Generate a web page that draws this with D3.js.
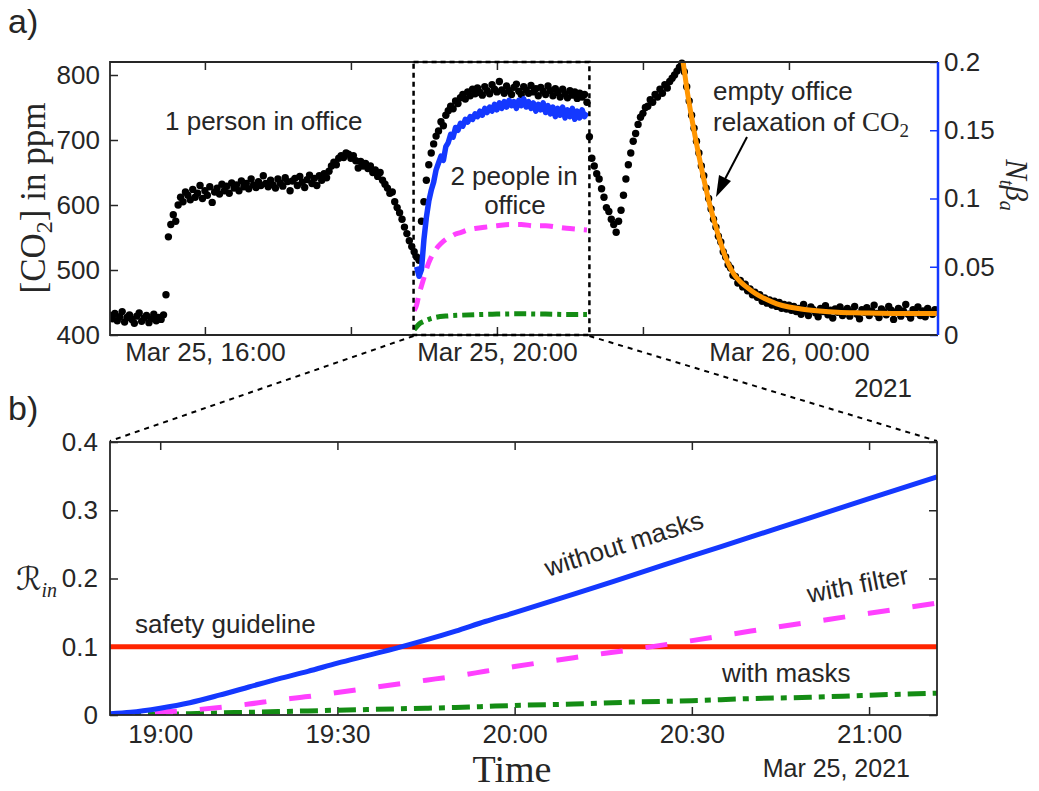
<!DOCTYPE html>
<html><head><meta charset="utf-8">
<script src="https://cdn.jsdelivr.net/npm/d3@7"></script>
<style>
body{margin:0;background:#fff;}
svg{display:block;}
text{font-family:"Liberation Sans",Arial,Helvetica,sans-serif;fill:#262626;}
.serif{font-family:"Liberation Serif","DejaVu Serif",serif;}
</style></head><body>
<svg id="c" width="1039" height="791"></svg>
<script>
// ---------------- DATA (times in minutes after Mar 25 2021 00:00) ----------------
// CO2 measurements (ppm), sampled every 2 minutes, by segment
const dotsA_start = 882;
const dotsA = [430,425,433,422,428,436,420,427,431,424,418,429,434,421,426,430,419,425,432,422,427,424,431,462];
const dotsB_start = 930;
const dotsB = [551,570,585,575,600,612,605,620,615,608,624,612,618,630,610,622,615,628,604,620,
  626,617,632,622,629,618,634,626,631,622,637,628,633,625,640,631,627,636,630,645,
  633,628,638,631,626,640,634,629,642,636,622,637,641,630,644,635,627,639,646,633,
  641,630,645,638,648,642,652,660,666,662,672,676,673,680,678,672,676,668,657,667,
  660,664,656,660,650,654,644,650,638,632,626,618,620,605,596,588,578,566,556,545,
  536,528,520,515];
const dotsC_start = 1138;
const dotsC = [575,605,638,662,680,694,706,714,728,722,738,745,752,748,760,756,765,770,763,774,
  768,778,771,780,773,769,782,776,771,785,778,774,790,777,772,783,776,770,781,786,
  775,770,782,777,772,784,774,779,768,781,775,770,783,776,768,779,773,766,778,771,
  765,776,769,774,764,772,766,770,758];
const dotsD_start = 1276;
const dotsD = [705,672,660,648,640,625,612,596,590,578,570,558,575,592,615,640,662,680,698,710,
  724,735,741,750,752,762,758,770,766,778,772,785,780,790,795,800,806,812,818];
const dotsE_start = 1354;
const dotsE = [805,782,760,738,718,698,680,660,645,626,610,594,578,566,552,543,528,520,508,503,
  492,490,480,484,474,478,468,471,462,466,458,462,452,457,449,454,446,452,444,450,
  441,447,440,446,
  438,444,436,441,432,447,437,430,443,439,434,428,441,436,445,431,438,426,440,435,
  443,430,437,441,429,436,444,432,425,439,435,442,430,437,446,433,427,440,436,431,
  444,438,424,435,441,429,437,447,432,426,439,434,443,430,437,428,441,435,432,439,436];
const dotStep = 2;

// N_t * beta_a estimate (right axis), every 2 minutes
const nbStart = 1134;
const nbValues = [0.050,0.043,0.048,0.070,0.086,0.098,0.106,0.112,0.121,0.126,0.131,0.128,0.138,0.141,0.147,0.145,
  0.152,0.150,0.155,0.153,0.158,0.156,0.160,0.158,0.162,0.160,0.164,0.161,0.166,0.163,0.167,0.164,0.169,0.165,
  0.170,0.166,0.171,0.167,0.172,0.168,0.171,0.166,0.172,0.168,0.173,0.167,0.171,0.166,0.170,0.164,0.169,0.165,
  0.170,0.163,0.168,0.162,0.167,0.160,0.166,0.161,0.167,0.159,0.165,0.160,0.166,0.158,0.164,0.159,0.165,0.160,0.163];
const filterTopT = [1132,1134,1136,1138,1140,1142,1144,1146,1150,1154,1158,1162,1166,1170,1176,1182,1190,1200,1210,1220,1230,1240,1250,1260,1274];
const filterTopV = [0.018,0.022,0.030,0.036,0.042,0.048,0.053,0.057,0.063,0.067,0.070,0.072,0.074,0.075,0.077,0.078,0.079,0.080,0.081,0.081,0.080,0.080,0.079,0.078,0.077];
const masksTopT = [1132,1134,1136,1140,1144,1150,1160,1170,1185,1200,1220,1240,1260,1274];
const masksTopV = [0.004,0.006,0.008,0.010,0.0115,0.013,0.014,0.0145,0.015,0.0153,0.0155,0.0153,0.015,0.015];

// exponential relaxation fit (ppm)
const fitT = [1353,1356,1360,1365,1370,1375,1380,1385,1390,1395,1400,1405,1410,1415,1420,1430,1440,1450,1465,1480,1500,1530,1563];
const fitV = [820,780,735,685,640,600,566,535,510,493,482,474,467,461,456,448,443,440,437,435,434,433,433];

// panel b: infection risk
const riskT = [1131.5,1135,1140,1145,1150,1155,1160,1165,1170,1175,1180,1185,1190,1195,1200,1210,1220,1230,1240,1250,1260,1271.5];
const riskNoMask = [0.002,0.004,0.010,0.018,0.029,0.041,0.053,0.064,0.076,0.087,0.098,0.110,0.123,0.137,0.150,0.177,0.205,0.233,0.261,0.289,0.317,0.349];
const riskFilter = [0.000,0.001,0.004,0.007,0.011,0.016,0.022,0.027,0.033,0.039,0.045,0.051,0.057,0.064,0.071,0.084,0.096,0.109,0.123,0.136,0.149,0.164];
const riskMasks  = [0.000,0.0005,0.001,0.002,0.003,0.004,0.005,0.006,0.007,0.008,0.009,0.010,0.011,0.0125,0.014,0.016,0.019,0.021,0.024,0.026,0.029,0.032];
const safetyLevel = 0.1;

// ticks
const topDomain = [882, 1562.5];
const topTicks = [960, 1080, 1200, 1320, 1440];
const topTickLabels = ["Mar 25, 16:00", "", "Mar 25, 20:00", "", "Mar 26, 00:00"];
const leftTicks = [400, 500, 600, 700, 800];
const rightTicks = [0, 0.05, 0.1, 0.15, 0.2];
const rightTickLabels = ["0", "0.05", "0.1", "0.15", "0.2"];
const zoomBox = [1131.5, 1276];
const botDomain = [1131.5, 1271.5];
const botTicks = [1140, 1170, 1200, 1230, 1260];
const botTickLabels = ["19:00", "19:30", "20:00", "20:30", "21:00"];
const riskTicks = [0, 0.1, 0.2, 0.3, 0.4];
const riskTickLabels = ["0", "0.1", "0.2", "0.3", "0.4"];

// ---------------- DRAW ----------------
const BASE = new Date(2021, 2, 25, 0, 0, 0).getTime();
const T = m => new Date(BASE + m * 60000);
const svg = d3.select("#c");
const AX = "#262626", BLUE = "#1438ff", MAG = "#ff40ff", GRN = "#148c14", RED = "#ff2400", ORG = "#ff9500";

const A = {l: 110, r: 938, t: 62, b: 335};
const B = {l: 110, r: 937, t: 442, b: 715};

const xa = d3.scaleTime().domain(topDomain.map(T)).range([A.l, A.r]);
const ya = d3.scaleLinear().domain([400, 820]).range([A.b, A.t]);
const ya2 = d3.scaleLinear().domain([0, 0.2]).range([A.b, A.t]);
const xb = d3.scaleTime().domain(botDomain.map(T)).range([B.l, B.r]);
const yb = d3.scaleLinear().domain([0, 0.4]).range([B.b, B.t]);

const defs = svg.append("defs");
defs.append("clipPath").attr("id", "clipA").append("rect").attr("x", A.l).attr("y", A.t - 4).attr("width", A.r - A.l).attr("height", A.b - A.t + 4);
defs.append("clipPath").attr("id", "clipB").append("rect").attr("x", B.l).attr("y", B.t).attr("width", B.r - B.l).attr("height", B.b - B.t);

function styleAxis(g, color, size) {
  g.select(".domain").remove();
  g.selectAll(".tick line").attr("stroke", color).attr("stroke-width", 1.5);
  g.selectAll(".tick text").attr("fill", color).style("font-size", size + "px")
    .style("font-family", '"Liberation Sans",Arial,Helvetica,sans-serif');
}
const TS = 8, FS = 26;

// ---- panel a axes
let g;
g = svg.append("g").attr("transform", `translate(0,${A.b})`)
  .call(d3.axisBottom(xa).tickValues(topTicks.map(T)).tickSizeInner(-TS).tickSizeOuter(0).tickPadding(8)
    .tickFormat((d, i) => topTickLabels[i]));
styleAxis(g, AX, FS);
g = svg.append("g").attr("transform", `translate(0,${A.t})`)
  .call(d3.axisTop(xa).tickValues(topTicks.map(T)).tickSizeInner(-TS).tickSizeOuter(0).tickFormat(""));
styleAxis(g, AX, FS);
g = svg.append("g").attr("transform", `translate(${A.l},0)`)
  .call(d3.axisLeft(ya).tickValues(leftTicks).tickSizeInner(-TS).tickSizeOuter(0).tickPadding(10));
styleAxis(g, AX, FS);
g = svg.append("g").attr("transform", `translate(${A.r},0)`)
  .call(d3.axisRight(ya2).tickValues(rightTicks).tickSizeInner(-TS).tickSizeOuter(0).tickPadding(6)
    .tickFormat((d, i) => rightTickLabels[i]));
styleAxis(g, BLUE, FS);

// ---- panel a data
const pa = svg.append("g").attr("clip-path", "url(#clipA)");
const dotSets = [[dotsA_start, dotsA], [dotsB_start, dotsB], [dotsC_start, dotsC], [dotsD_start, dotsD], [dotsE_start, dotsE]];
const dots = [];
dotSets.forEach(([s, arr]) => arr.forEach((v, i) => dots.push({t: s + i * dotStep, v})));
pa.selectAll("circle.dot").data(dots).join("circle").attr("class", "dot")
  .attr("cx", d => xa(T(d.t))).attr("cy", d => ya(d.v)).attr("r", 3.7).attr("fill", "#000");

const lineA = d3.line().x(d => xa(T(d[0]))).y(d => ya2(d[1]));
pa.append("path").attr("d", d3.line().x(d => xa(T(d[0]))).y(d => ya2(d[1])).curve(d3.curveMonotoneX)(masksTopT.map((t, i) => [t, masksTopV[i]])))
  .attr("fill", "none").attr("stroke", GRN).attr("stroke-width", 5).attr("stroke-dasharray", "12,5,4,5");
pa.append("path").attr("d", d3.line().x(d => xa(T(d[0]))).y(d => ya2(d[1])).curve(d3.curveMonotoneX)(filterTopT.map((t, i) => [t, filterTopV[i]])))
  .attr("fill", "none").attr("stroke", MAG).attr("stroke-width", 5).attr("stroke-dasharray", "13,9");
pa.append("path").attr("d", lineA(nbValues.map((v, i) => [nbStart + i * 2, v])))
  .attr("fill", "none").attr("stroke", BLUE).attr("stroke-width", 5.5).attr("stroke-linejoin", "round");
pa.append("path").attr("d", d3.line().x(d => xa(T(d[0]))).y(d => ya(d[1])).curve(d3.curveMonotoneX)(fitT.map((t, i) => [t, fitV[i]])))
  .attr("fill", "none").attr("stroke", ORG).attr("stroke-width", 5);

// frame a
svg.append("path").attr("d", `M${A.r},${A.t}H${A.l}V${A.b}H${A.r}`).attr("fill", "none").attr("stroke", AX).attr("stroke-width", 1.8);
svg.append("line").attr("x1", A.r).attr("x2", A.r).attr("y1", A.t).attr("y2", A.b).attr("stroke", BLUE).attr("stroke-width", 2.5);

// zoom box
const bx0 = xa(T(zoomBox[0])), bx1 = xa(T(zoomBox[1]));
svg.append("rect").attr("x", bx0).attr("y", A.t).attr("width", bx1 - bx0).attr("height", A.b - A.t)
  .attr("fill", "none").attr("stroke", "#000").attr("stroke-width", 2.5).attr("stroke-dasharray", "5,4");
svg.append("line").attr("x1", bx0).attr("y1", A.b + 1).attr("x2", B.l).attr("y2", B.t - 1)
  .attr("stroke", "#000").attr("stroke-width", 2).attr("stroke-dasharray", "5,5");
svg.append("line").attr("x1", bx1).attr("y1", A.b + 1).attr("x2", B.r).attr("y2", B.t - 1)
  .attr("stroke", "#000").attr("stroke-width", 2).attr("stroke-dasharray", "5,5");

// panel a texts
const txt = (x, y, s, opt = {}) => svg.append("text").attr("x", x).attr("y", y).text(s)
  .style("font-size", (opt.size || 26) + "px").attr("fill", opt.color || "#111").attr("text-anchor", opt.anchor || "start");
txt(8, 33, "a)", {size: 34});
txt(8, 420, "b)", {size: 34});
txt(165, 130, "1 person in office");
txt(514, 185, "2 people in", {anchor: "middle"});
txt(515, 214, "office", {anchor: "middle"});
txt(713, 100, "empty office");
const rel = svg.append("text").attr("x", 713).attr("y", 131).style("font-size", "26px").attr("fill", "#111");
rel.append("tspan").text("relaxation of ");
rel.append("tspan").attr("class", "serif").style("font-size", "27px").text("CO");
rel.append("tspan").attr("class", "serif").attr("dy", 6).style("font-size", "19px").text("2");
txt(912, 397, "2021", {anchor: "end", size: 26, color: AX});

// arrow
svg.append("line").attr("x1", 747).attr("y1", 137).attr("x2", 724).attr("y2", 181).attr("stroke", "#000").attr("stroke-width", 2);
svg.append("path").attr("d", "M716,197 L719,175 L731,181 Z").attr("fill", "#000");

// axis titles a
const yl = svg.append("text").attr("class", "serif").attr("transform", "translate(45,198) rotate(-90)")
  .attr("text-anchor", "middle").style("font-size", "35px").attr("fill", "#111");
yl.append("tspan").text("[CO");
yl.append("tspan").attr("dy", 7).style("font-size", "24px").text("2");
yl.append("tspan").attr("dy", -7).text("] in ppm");
const yr = svg.append("text").attr("class", "serif").attr("transform", "translate(1006,185) rotate(90)")
  .attr("text-anchor", "middle").style("font-size", "31px").style("font-style", "italic").attr("fill", BLUE);
yr.append("tspan").text("N");
yr.append("tspan").attr("dy", 6).style("font-size", "20px").text("t");
yr.append("tspan").attr("dy", -6).text("β");
yr.append("tspan").attr("dy", 6).style("font-size", "20px").text("a");

// ---- panel b axes
g = svg.append("g").attr("transform", `translate(0,${B.b})`)
  .call(d3.axisBottom(xb).tickValues(botTicks.map(T)).tickSizeInner(-TS).tickSizeOuter(0).tickPadding(10)
    .tickFormat((d, i) => botTickLabels[i]));
styleAxis(g, AX, FS);
g = svg.append("g").attr("transform", `translate(0,${B.t})`)
  .call(d3.axisTop(xb).tickValues(botTicks.map(T)).tickSizeInner(-TS).tickSizeOuter(0).tickFormat(""));
styleAxis(g, AX, FS);
g = svg.append("g").attr("transform", `translate(${B.l},0)`)
  .call(d3.axisLeft(yb).tickValues(riskTicks).tickSizeInner(-TS).tickSizeOuter(0).tickPadding(12)
    .tickFormat((d, i) => riskTickLabels[i]));
styleAxis(g, AX, FS);
g = svg.append("g").attr("transform", `translate(${B.r},0)`)
  .call(d3.axisRight(yb).tickValues(riskTicks).tickSizeInner(-TS).tickSizeOuter(0).tickFormat(""));
styleAxis(g, AX, FS);

const pb = svg.append("g").attr("clip-path", "url(#clipB)");
const lineB = d3.line().x(d => xb(T(d[0]))).y(d => yb(d[1])).curve(d3.curveMonotoneX);
pb.append("line").attr("x1", B.l).attr("x2", B.r).attr("y1", yb(safetyLevel)).attr("y2", yb(safetyLevel))
  .attr("stroke", RED).attr("stroke-width", 5);
pb.append("path").attr("d", lineB(riskT.map((t, i) => [t, riskMasks[i]])))
  .attr("fill", "none").attr("stroke", GRN).attr("stroke-width", 5).attr("stroke-dasharray", "18,7,6,7");
pb.append("path").attr("d", lineB(riskT.map((t, i) => [t, riskFilter[i]])))
  .attr("fill", "none").attr("stroke", MAG).attr("stroke-width", 5).attr("stroke-dasharray", "22,23");
pb.append("path").attr("d", lineB(riskT.map((t, i) => [t, riskNoMask[i]])))
  .attr("fill", "none").attr("stroke", BLUE).attr("stroke-width", 5);

svg.append("rect").attr("x", B.l).attr("y", B.t).attr("width", B.r - B.l).attr("height", B.b - B.t)
  .attr("fill", "none").attr("stroke", AX).attr("stroke-width", 1.8);

// panel b texts
txt(135, 633, "safety guideline", {color: "#8c1000"});
txt(722, 682, "with masks", {color: "#0b5a2c"});
svg.append("text").attr("transform", "translate(548,577) rotate(-17.5)").text("without masks")
  .style("font-size", "26px").attr("fill", BLUE);
svg.append("text").attr("transform", "translate(809,603) rotate(-11)").text("with filter")
  .style("font-size", "26px").attr("fill", MAG);
txt(910, 777, "Mar 25, 2021", {anchor: "end", size: 25, color: AX});
svg.append("text").attr("class", "serif").attr("x", 512).attr("y", 782).attr("text-anchor", "middle")
  .style("font-size", "38px").attr("fill", "#111").text("Time");
const rl = svg.append("text").attr("x", 16).attr("y", 590).style("font-size", "32px").attr("fill", "#111")
  .style("font-family", '"DejaVu Sans","Noto Sans",sans-serif');
rl.append("tspan").text("ℛ");
rl.append("tspan").attr("class", "serif").attr("dy", 7).style("font-size", "20px").style("font-style", "italic").text("in");
</script>
</body></html>
